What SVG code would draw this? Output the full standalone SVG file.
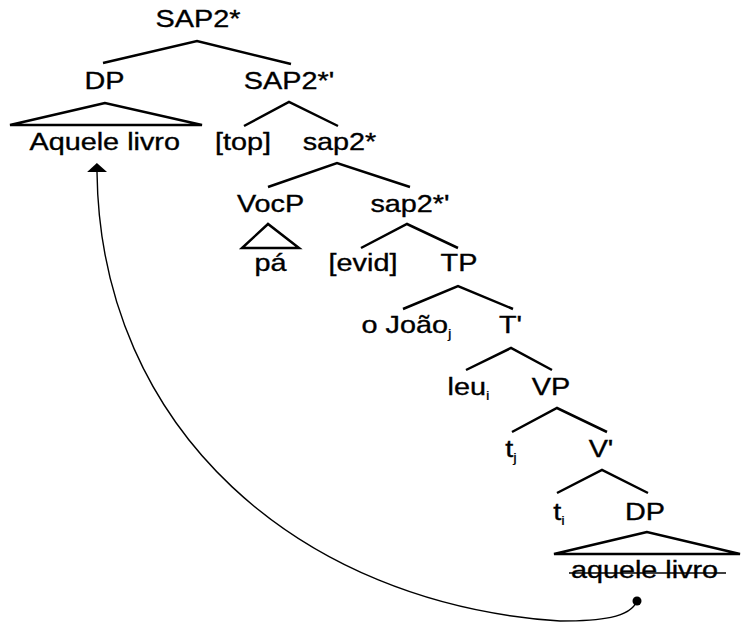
<svg xmlns="http://www.w3.org/2000/svg" width="741" height="623" viewBox="0 0 741 623">
  <style>
    text { font-family: "Liberation Sans", Arial, sans-serif; font-size: 24px; fill: #000; stroke: #000; stroke-width: 0.35; text-anchor: middle; }
    .sub { font-size: 13px; stroke-width: 0.2; }
    .edge { stroke: #000; stroke-width: 2.5; fill: none; }
    .tri { stroke: #000; stroke-width: 2.5; fill: none; stroke-linejoin: miter; }
    .move { stroke: #000; stroke-width: 1.4; fill: none; }
  </style>
  <defs>
    <marker id="head" markerUnits="userSpaceOnUse" markerWidth="10" markerHeight="20" refX="0" refY="10" orient="auto" viewBox="0 0 10 20">
      <path d="M0,0 L9,10 L0,20 z" fill="#000"/>
    </marker>
    <marker id="dot" markerUnits="userSpaceOnUse" markerWidth="10" markerHeight="10" refX="5" refY="5" viewBox="0 0 10 10">
      <circle cx="5" cy="5" r="4.5" fill="#000"/>
    </marker>
  </defs>

  <rect width="741" height="623" fill="#fff"/>

  <!-- tree branches and the movement arrow -->
  <g id="connectors">
    <path class="edge" d="M103,63 L197,41 L291,64"/>
    <path class="edge" d="M244,126 L289,102 L338,126"/>
    <path class="edge" d="M268,187 L337,163 L410,187"/>
    <path class="edge" d="M361,248 L407,224 L458,248"/>
    <path class="edge" d="M403,309 L458,286 L513,309"/>
    <path class="edge" d="M466,370 L511,348 L552,370"/>
    <path class="edge" d="M512,432 L557,408 L607,432"/>
    <path class="edge" d="M557,493 L602,470 L648,493"/>
    <path class="move" marker-start="url(#dot)" marker-end="url(#head)"
          d="M637,601 C630,618 600,621 560,621 C300,604 100,430 97,172"/>
  </g>

  <g id="sap2star"><text transform="translate(198 27) scale(1.2 1)">SAP2*</text></g>
  <g id="dp-top">
    <text transform="translate(104.5 89) scale(1.2 1)">DP</text>
    <polygon class="tri" points="105,103 10,125 202,125"/>
    <text transform="translate(104.7 150) scale(1.2 1)">Aquele livro</text>
  </g>
  <g id="sap2star-bar"><text transform="translate(289 89) scale(1.2 1)">SAP2*'</text></g>
  <g id="top"><text transform="translate(243 150) scale(1.2 1)">[top]</text></g>
  <g id="sap2-small"><text transform="translate(339.5 150) scale(1.2 1)">sap2*</text></g>
  <g id="vocp">
    <text transform="translate(270.5 212) scale(1.2 1)">VocP</text>
    <polygon class="tri" points="268,224 242,248 299,248"/>
    <text transform="translate(270.5 271) scale(1.2 1)">pá</text>
  </g>
  <g id="sap2-small-bar"><text transform="translate(410 212) scale(1.2 1)">sap2*'</text></g>
  <g id="evid"><text transform="translate(363 271) scale(1.2 1)">[evid]</text></g>
  <g id="tp"><text transform="translate(459 271) scale(1.2 1)">TP</text></g>
  <g id="joao"><text transform="translate(406.5 333) scale(1.2 1)">o João<tspan class="sub" dy="5">j</tspan></text></g>
  <g id="tbar"><text transform="translate(510.5 333) scale(1.2 1)">T'</text></g>
  <g id="leu"><text transform="translate(468.5 395) scale(1.2 1)">leu<tspan class="sub" dy="5">i</tspan></text></g>
  <g id="vp"><text transform="translate(551 395) scale(1.2 1)">VP</text></g>
  <g id="trace-j"><text transform="translate(511 457) scale(1.2 1)">t<tspan class="sub" dy="5">j</tspan></text></g>
  <g id="vbar"><text transform="translate(601 457) scale(1.2 1)">V'</text></g>
  <g id="trace-i"><text transform="translate(559 520) scale(1.2 1)">t<tspan class="sub" dy="5">i</tspan></text></g>
  <g id="dp-low">
    <text transform="translate(645 520) scale(1.2 1)">DP</text>
    <polygon class="tri" points="647,532 554,554 740,554"/>
    <text transform="translate(644.5 578) scale(1.2 1)">aquele livro</text>
    <line x1="569" y1="573" x2="726" y2="573" stroke="#000" stroke-width="1.5"/>
  </g>
</svg>
